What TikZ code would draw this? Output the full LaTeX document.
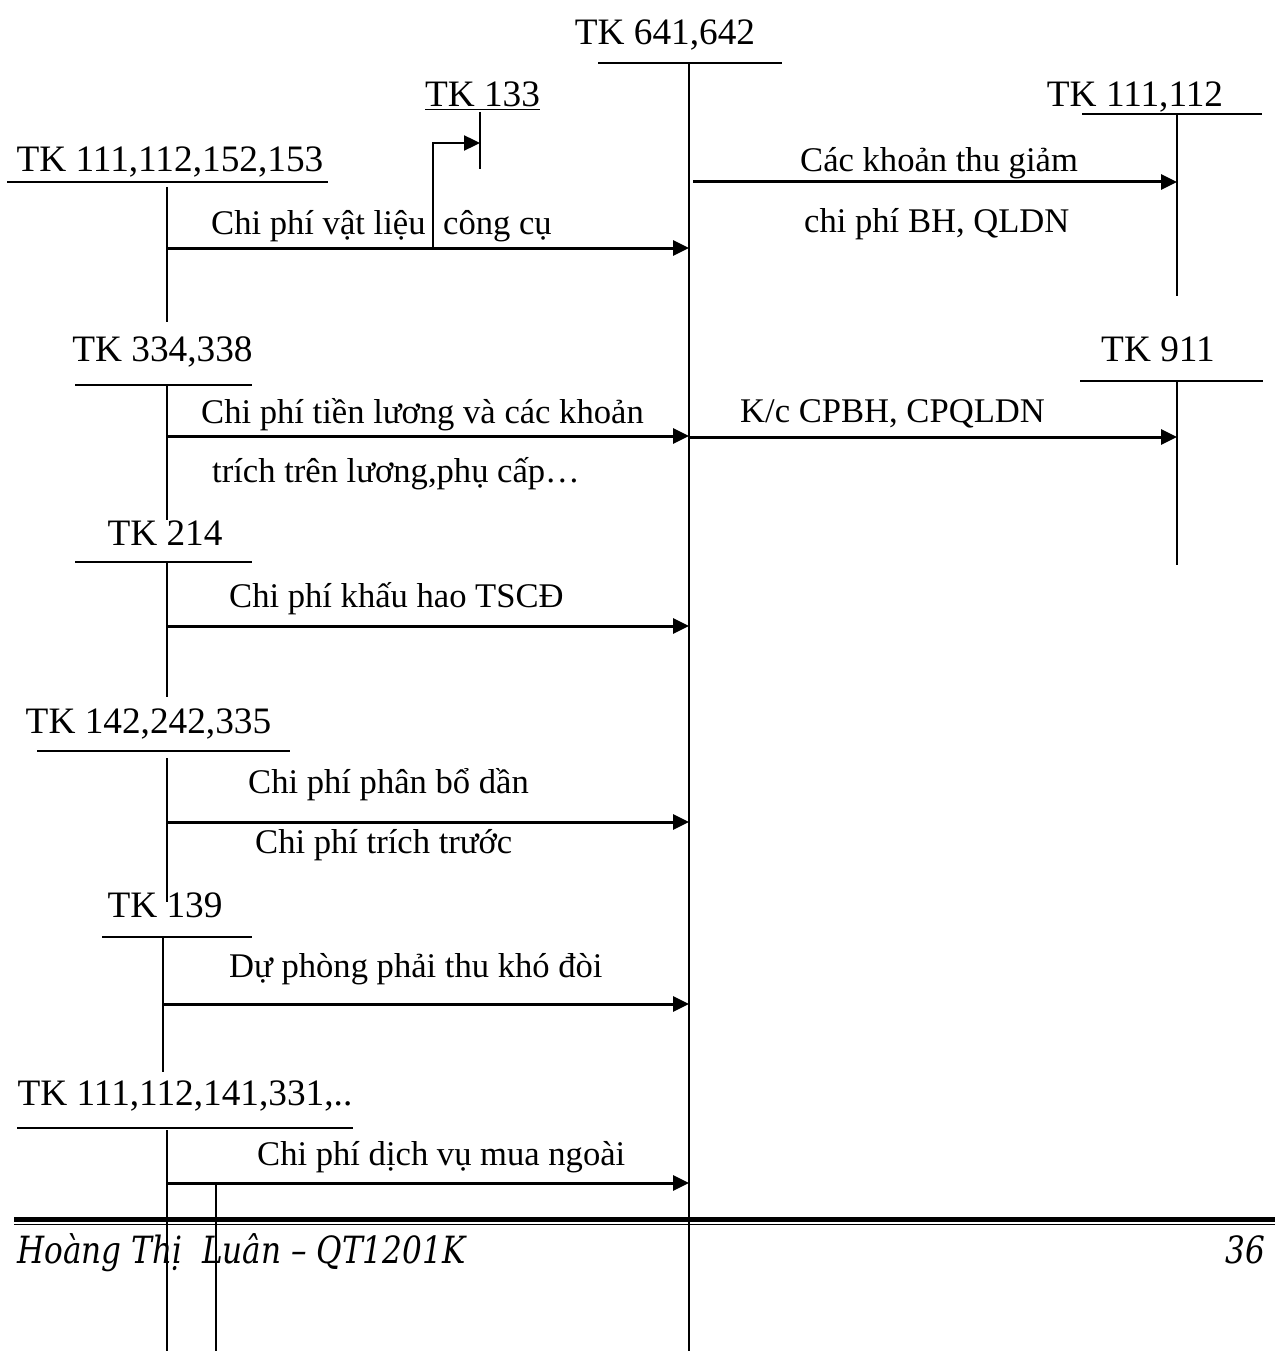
\documentclass[tikz,border=0pt]{standalone}
\usepackage{fontspec}
\setmainfont{Liberation Serif}
\newfontfamily\footfont[FakeStretch=0.83]{DejaVu Serif}
\usetikzlibrary{arrows.meta}
\begin{document}
\begin{tikzpicture}[x=1pt,y=-1pt,
  acct/.style={font=\fontsize{37.3}{42}\selectfont, inner sep=0pt, anchor=base},
  lbl/.style={font=\fontsize{34.6}{40}\selectfont, inner sep=0pt, anchor=base west},
  tline/.style={line width=1.6pt},
  flow/.style={line width=3pt, -{Triangle[length=16pt,width=15pt]}},
  vatflow/.style={line width=2.4pt, -{Triangle[length=16pt,width=15pt]}},
  foottext/.style={inner sep=0pt, font=\footfont\itshape\fontsize{37.5}{42}\selectfont}
]
\useasboundingbox (0,0) rectangle (1275,1351);

% ---- central account TK 641,642 ----
\node[acct] (tk641) at (665,45) {TK 641,642};
\draw[tline] (598,63) -- (782,63);
\coordinate (c641t) at (689,63);
\coordinate (c641b) at (689,1351);
\draw[tline] (c641t) -- (c641b);

% ---- TK 133 ----
\node[acct] (tk133) at (482.5,107) {\underline{TK 133}};
\coordinate (c133t) at (480,112);
\coordinate (c133b) at (480,169);
\draw[tline] (c133t) -- (c133b);

% ---- TK 111,112 (right, receiving) ----
\node[acct] (tk111r) at (1135,107) {TK 111,112};
\draw[tline] (1082,114) -- (1262,114);
\coordinate (c111rt) at (1177,114);
\coordinate (c111rb) at (1177,296);
\draw[tline] (c111rt) -- (c111rb);

% ---- TK 911 ----
\node[acct] (tk911) at (1158,361) {TK 911};
\draw[tline] (1080,381) -- (1263,381);
\coordinate (c911t) at (1177,381);
\coordinate (c911b) at (1177,565);
\draw[tline] (c911t) -- (c911b);

% ---- TK 111,112,152,153 ----
\node[acct] (tk152) at (170,172) {TK 111,112,152,153};
\draw[tline] (7,182) -- (328,182);
\coordinate (c152t) at (167,187);
\coordinate (c152b) at (167,322);
\draw[tline] (c152t) -- (c152b);

% ---- TK 334,338 ----
\node[acct] (tk334) at (162.5,361) {TK 334,338};
\draw[tline] (75,385) -- (252,385);
\coordinate (c334t) at (167,385);
\coordinate (c334b) at (167,520);
\draw[tline] (c334t) -- (c334b);

% ---- TK 214 ----
\node[acct] (tk214) at (165,545) {TK 214};
\draw[tline] (75,562) -- (252,562);
\coordinate (c214t) at (167,562);
\coordinate (c214b) at (167,697);
\draw[tline] (c214t) -- (c214b);

% ---- TK 142,242,335 ----
\node[acct] (tk142) at (148.5,733) {TK 142,242,335};
\draw[tline] (37,751) -- (290,751);
\coordinate (c142t) at (167,758);
\coordinate (c142b) at (167,902);
\draw[tline] (c142t) -- (c142b);

% ---- TK 139 ----
\node[acct] (tk139) at (165,917) {TK 139};
\draw[tline] (102,937) -- (252,937);
\coordinate (c139t) at (163,937);
\coordinate (c139b) at (163,1072);
\draw[tline] (c139t) -- (c139b);

% ---- TK 111,112,141,331,.. ----
\node[acct] (tk331) at (185,1105) {TK 111,112,141,331,..};
\draw[tline] (17,1128) -- (353,1128);
\coordinate (c331t) at (167,1130);
\coordinate (c331b) at (167,1351);
\draw[tline] (c331t) -- (c331b);

% ---- flows into TK 641,642 ----
\coordinate (f1s) at (167,248);   \coordinate (f1e) at (689,248);
\draw[flow] (f1s) -- (f1e);
\coordinate (f1b) at (433,248);
\coordinate (f1v) at (480,143);
\draw[vatflow] (f1b) |- (f1v);
\node[lbl] (l1a) at (211,234) {Chi phí vật liệu};
\node[lbl] (l1b) at (443,234) {công cụ};

\coordinate (f2s) at (167,436);   \coordinate (f2e) at (689,436);
\draw[flow] (f2s) -- (f2e);
\node[lbl] (l2a) at (201,423) {Chi phí tiền lương và các khoản};
\node[lbl] (l2b) at (212,482) {trích trên lương,phụ cấp…};

\coordinate (f3s) at (167,626);   \coordinate (f3e) at (689,626);
\draw[flow] (f3s) -- (f3e);
\node[lbl] (l3) at (229,607) {Chi phí khấu hao TSCĐ};

\coordinate (f4s) at (167,822);   \coordinate (f4e) at (689,822);
\draw[flow] (f4s) -- (f4e);
\node[lbl] (l4a) at (248,793) {Chi phí phân bổ dần};
\node[lbl] (l4b) at (255,853) {Chi phí trích trước};

\coordinate (f5s) at (163,1004);  \coordinate (f5e) at (689,1004);
\draw[flow] (f5s) -- (f5e);
\node[lbl] (l5) at (229,977) {Dự phòng phải thu khó đòi};

\coordinate (f6s) at (167,1183);  \coordinate (f6e) at (689,1183);
\draw[flow] (f6s) -- (f6e);
\node[lbl] (l6) at (257,1165) {Chi phí dịch vụ mua ngoài};
\coordinate (f6t) at (216,1183); \coordinate (f6u) at (216,1351);
\draw[tline] (f6t) -- (f6u);

% ---- flows out of TK 641,642 ----
\coordinate (g1s) at (693,182);   \coordinate (g1e) at (1177,182);
\draw[flow] (g1s) -- (g1e);
\node[lbl] (m1a) at (800,172) {Các khoản thu giảm};
\node[lbl] (m1b) at (804,232) {chi phí BH, QLDN};

\coordinate (g2s) at (689,437);   \coordinate (g2e) at (1177,437);
\draw[flow] (g2s) -- (g2e);
\node[lbl] (m2) at (740,422) {K/c CPBH, CPQLDN};

% ---- page footer ----
\coordinate (rl) at (14,1219.5); \coordinate (rr) at (1275,1219.5);
\draw[line width=4.5pt] (rl) -- (rr);
\draw[line width=1.8pt] ([yshift=-5pt]rl) -- ([yshift=-5pt]rr);
\node[foottext, anchor=base west] (foot) at (17,1263) {Hoàng Thị\ \ Luân – QT1201K};
\node[foottext, anchor=base east] (page) at (1265,1263) {36};
\end{tikzpicture}
\end{document}
